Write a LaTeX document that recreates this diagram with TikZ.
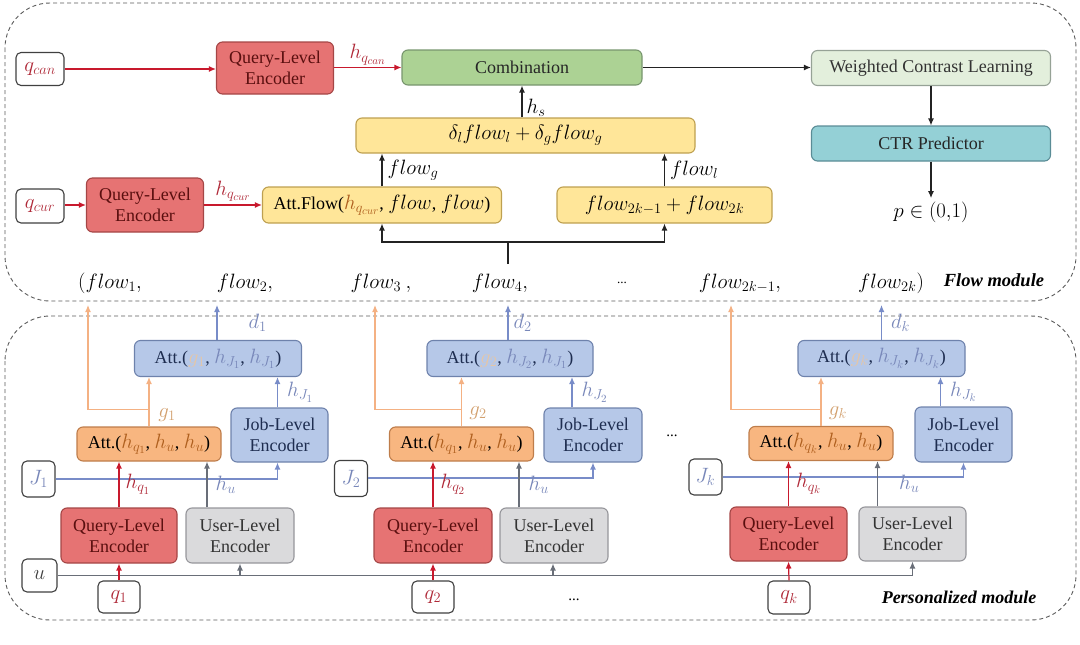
\documentclass[tikz,border=0pt]{standalone}
\usepackage{fontspec}
\setmainfont{Liberation Serif}
\DeclareMathSizes{18}{19.5}{14.5}{11}
\usetikzlibrary{arrows.meta}
\definecolor{qfill}{RGB}{230,115,115}
\definecolor{qdraw}{RGB}{165,70,70}
\definecolor{qtext}{RGB}{90,15,15}
\definecolor{ofill}{RGB}{248,182,128}
\definecolor{odraw}{RGB}{190,125,75}
\definecolor{bfill}{RGB}{182,200,232}
\definecolor{bdraw}{RGB}{110,130,172}
\definecolor{btext}{RGB}{30,45,80}
\definecolor{ufill}{RGB}{218,218,220}
\definecolor{udraw}{RGB}{150,150,155}
\definecolor{yfill}{RGB}{255,230,153}
\definecolor{ydraw}{RGB}{190,160,80}
\definecolor{cfill}{RGB}{172,210,148}
\definecolor{cdraw}{RGB}{120,150,110}
\definecolor{wfill}{RGB}{227,239,220}
\definecolor{wdraw}{RGB}{150,162,150}
\definecolor{tfill}{RGB}{148,208,214}
\definecolor{tdraw}{RGB}{90,140,150}
\definecolor{ared}{RGB}{200,25,45}
\definecolor{agray}{RGB}{105,110,120}
\definecolor{ablue}{RGB}{120,140,200}
\definecolor{aorange}{RGB}{244,177,131}
\definecolor{ablack}{RGB}{35,35,35}
\definecolor{lred}{RGB}{175,40,55}
\definecolor{lblue}{RGB}{120,135,185}
\definecolor{lorange}{RGB}{210,160,110}
\definecolor{horange}{RGB}{175,95,30}
\definecolor{modgray}{RGB}{90,90,90}
\begin{document}
\begin{tikzpicture}[x=1pt,y=-1pt,
  every node/.style={font=\fontsize{18}{21}\selectfont},
  box/.style={draw, rounded corners=6pt, line width=1.1pt, align=center, inner sep=0pt},
  qbox/.style={box, fill=qfill, draw=qdraw, text=qtext, minimum width=117pt, minimum height=54pt},
  obox/.style={box, fill=ofill, draw=odraw, minimum width=144pt, minimum height=34pt},
  bbox/.style={box, fill=bfill, draw=bdraw, text=btext},
  ubox/.style={box, fill=ufill, draw=udraw, text=black!80, minimum width=108pt, minimum height=55pt},
  ybox/.style={box, fill=yfill, draw=ydraw, minimum height=35pt},
  sbox/.style={box, fill=white, draw=black!75, rounded corners=5pt},
  arr/.style={-{Latex[length=7pt,width=6pt]}, line width=1.2pt},
  redarr/.style={arr, draw=ared, color=ared},
  grayarr/.style={arr, draw=agray, color=agray},
  bluearr/.style={arr, draw=ablue, color=ablue},
  orarr/.style={arr, draw=aorange, color=aorange},
  blkarr/.style={arr, draw=ablack, color=ablack},
  module/.style={draw=modgray, dash pattern=on 4pt off 3pt, line width=0.9pt, rounded corners=45pt},
  lab/.style={inner sep=1pt}
]
\useasboundingbox (0,0) rectangle (1080,645);
% modules
\draw[module] (5,3) rectangle (1076,301);
\draw[module] (5,316) rectangle (1076,620);

% ---------- Flow module ----------
\node[sbox, minimum width=48pt, minimum height=33pt, text=lred] (qcan) at (40,69) {$q_{can}$};
\node[qbox, minimum height=52pt] (qleA) at (275,68) {Query-Level\\Encoder};
\node[box, fill=cfill, draw=cdraw, text=black!85, minimum width=240pt, minimum height=35pt] (comb) at (522,67.5) {Combination};
\node[box, fill=wfill, draw=wdraw, text=black!80, minimum width=239pt, minimum height=35pt] (wcl) at (931,68) {Weighted Contrast Learning};
\node[box, fill=tfill, draw=tdraw, text=black!85, minimum width=239pt, minimum height=35pt] (ctr) at (931,143.5) {CTR Predictor};
\node (p) at (931,212) {$p \in (0{,}1)$};
\node[ybox, minimum width=339pt] (delta) at (525.5,135.5) {$\delta_l flow_l + \delta_g flow_g$};
\node[sbox, minimum width=48pt, minimum height=34pt, text=lred] (qcur) at (40,206) {$q_{cur}$};
\node[qbox] (qleB) at (145,205) {Query-Level\\Encoder};
\node[ybox, minimum width=239pt, minimum height=36pt] (attflow) at (382,205) {Att.Flow(\textcolor{horange}{$h_{q_{cur}}$}, $flow$, $flow$)};
\node[ybox, minimum width=215pt, minimum height=36pt] (fsum) at (664.5,205) {$flow_{2k-1} + flow_{2k}$};

\draw[redarr] (qcan.east) -- (qcan.east -| qleA.west);
\draw[redarr] (qleA.east |- comb.west) -- (comb.west) node[lab, midway, above=1pt, text=lred] {$h_{q_{can}}$};
\draw[blkarr] (comb.east) -- (comb.east -| wcl.west);
\draw[blkarr] (wcl.south) -- (ctr.north);
\draw[blkarr] (ctr.south) -- (p.north);
\draw[blkarr] (delta.north -| comb.south) -- (comb.south) node[lab, pos=0.3, right=3pt, text=black] {$h_s$};
\draw[redarr] (qcur.east |- qleB.west) -- (qleB.west);
\draw[redarr] (qleB.east) -- (attflow.west) node[lab, midway, above=2pt, text=lred] {$h_{q_{cur}}$};
\draw[blkarr] (attflow.north) -- (attflow.north |- delta.south) node[lab, midway, right=4pt, text=black] {$flow_g$};
\draw[blkarr] (fsum.north) -- (fsum.north |- delta.south) node[lab, midway, right=4pt, text=black] {$flow_l$};
\coordinate (tr) at (508,264);
\coordinate (trj) at (508,242);
\draw[ablack, line width=1.2pt] (tr) -- (trj);
\draw[blkarr] (trj) -| (attflow.south);
\draw[blkarr] (trj) -| (fsum.south);

% flow row
\node (fl1) at (110,283) {$(flow_1,$};
\node (fl2) at (245,283) {$flow_2,$};
\node (fl3) at (381,283) {$flow_3\ ,$};
\node (fl4) at (500,283) {$flow_4,$};
\node (fldots) at (622,283) {\fontsize{13}{15}\selectfont ...};
\node (fl5) at (740,283) {$flow_{2k-1},$};
\node (fl6) at (891,283) {$flow_{2k})$};
\node (flm) at (994,280) {\fontsize{18.5}{21}\selectfont\bfseries\itshape Flow module};

% ---------- Personalized module ----------
\node (pm) at (959,597) {\fontsize{18}{21}\selectfont\bfseries\itshape Personalized module};

\node[sbox, minimum width=35pt, minimum height=33pt, text=black!75] (u) at (39.5,575.5) {$u$};

% block 1
\node[bbox, minimum width=167pt, minimum height=36pt] (batt1) at (218,358.5) {Att.(\textcolor{lorange!60}{$g_1$}, \textcolor{lblue}{$h_{J_1}$}, \textcolor{lblue}{$h_{J_1}$})};
\node[obox] (oatt1) at (149,444) {Att.(\textcolor{horange}{$h_{q_1}$}, \textcolor{horange}{$h_u$}, \textcolor{horange}{$h_u$})};
\node[bbox, minimum width=97pt, minimum height=54pt] (jle1) at (279.5,435) {Job-Level\\Encoder};
\node[sbox, minimum width=33pt, minimum height=36pt, text=lblue] (J1) at (38.5,479) {$J_1$};
\node[qbox, minimum width=116pt, minimum height=55pt] (qle1) at (119,535.5) {Query-Level\\Encoder};
\node[ubox] (ule1) at (240,535.5) {User-Level\\Encoder};
\node[sbox, minimum width=42pt, minimum height=32pt, text=lred] (q1) at (119,597) {$q_1$};

% block 2
\node[bbox, minimum width=166pt, minimum height=36pt] (batt2) at (510,358.5) {Att.(\textcolor{lorange!60}{$g_2$}, \textcolor{lblue}{$h_{J_2}$}, \textcolor{lblue}{$h_{J_1}$})};
\node[obox] (oatt2) at (461.5,444) {Att.(\textcolor{horange}{$h_{q_1}$}, \textcolor{horange}{$h_u$}, \textcolor{horange}{$h_u$})};
\node[bbox, minimum width=98pt, minimum height=54pt] (jle2) at (593,435) {Job-Level\\Encoder};
\node[sbox, minimum width=33pt, minimum height=36pt, text=lblue] (J2) at (351,478.5) {$J_2$};
\node[qbox, minimum width=118pt, minimum height=55pt] (qle2) at (433,535.5) {Query-Level\\Encoder};
\node[ubox] (ule2) at (554,535.5) {User-Level\\Encoder};
\node[sbox, minimum width=42pt, minimum height=32pt, text=lred] (q2) at (433,597) {$q_2$};
\node (dotsA) at (672,436) {\fontsize{15}{17}\selectfont ...};
\node (dotsB) at (574,600) {\fontsize{15}{17}\selectfont ...};

% block k
\node[bbox, minimum width=167pt, minimum height=36pt] (battk) at (881.5,358.5) {Att.(\textcolor{lorange!60}{$g_k$}, \textcolor{lblue}{$h_{J_k}$}, \textcolor{lblue}{$h_{J_k}$})};
\node[obox] (oattk) at (821,443.5) {Att.(\textcolor{horange}{$h_{q_k}$}, \textcolor{horange}{$h_u$}, \textcolor{horange}{$h_u$})};
\node[bbox, minimum width=97pt, minimum height=55pt] (jlek) at (963.5,434.5) {Job-Level\\Encoder};
\node[sbox, minimum width=33pt, minimum height=36pt, text=lblue] (Jk) at (705.5,477) {$J_k$};
\node[qbox, minimum width=117pt, minimum height=54pt] (qlek) at (788.5,534) {Query-Level\\Encoder};
\node[ubox, minimum width=107pt, minimum height=54pt] (ulek) at (912.5,534) {User-Level\\Encoder};
\node[sbox, minimum width=42pt, minimum height=33pt, text=lred] (qk) at (789,597.5) {$q_k$};

% tips in the gap between modules
\coordinate (t1) at (88,305);
\coordinate (t2) at (375,305);
\coordinate (t3) at (731,305);

% u line
\draw[grayarr] (u.east) -| (ulek.south);
\draw[grayarr] (ule1.south |- u.east) -- (ule1.south);
\draw[grayarr] ([xshift=-1pt]ule2.south |- u.east) -- ([xshift=-1pt]ule2.south);

% q arrows
\draw[redarr] (q1.north) -- (qle1.south);
\draw[redarr] (q2.north) -- (qle2.south);
\draw[redarr] (qk.north) -- (qlek.south);

% J lines
\draw[bluearr] (J1.east) -| ([xshift=-2pt]jle1.south);
\draw[bluearr] (J2.east |- 0,478) -| (jle2.south);
\draw[bluearr] (Jk.east) -| (jlek.south);

% encoders to orange att
\draw[redarr] (qle1.north) -- (qle1.north |- oatt1.south) node[lab, midway, right=5pt, text=lred] {$h_{q_1}$};
\draw[grayarr] ([xshift=-33pt]ule1.north) -- ([xshift=-33pt]ule1.north |- oatt1.south) node[lab, midway, right=7pt, text=lblue] {$h_u$};
\draw[redarr] (qle2.north) -- (qle2.north |- oatt2.south) node[lab, midway, right=6pt, text=lred] {$h_{q_2}$};
\draw[grayarr] ([xshift=-35pt]ule2.north) -- ([xshift=-35pt]ule2.north |- oatt2.south) node[lab, midway, right=8pt, text=lblue] {$h_u$};
\draw[redarr] (qlek.north) -- (qlek.north |- oattk.south) node[lab, midway, right=6pt, text=lred] {$h_{q_k}$};
\draw[grayarr] ([xshift=-35pt]ulek.north) -- ([xshift=-35pt]ulek.north |- oattk.south) node[lab, midway, right=20pt, text=lblue] {$h_u$};

% job encoders to blue att
\draw[bluearr] ([xshift=-2pt]jle1.north) -- ([xshift=-2pt]jle1.north |- batt1.south) node[lab, midway, right=8pt, text=lblue] {$h_{J_1}$};
\draw[bluearr] ([xshift=-21pt]jle2.north) -- ([xshift=-21pt]jle2.north |- batt2.south) node[lab, midway, right=8pt, text=lblue] {$h_{J_2}$};
\draw[bluearr] ([xshift=-23pt]jlek.north) -- ([xshift=-23pt]jlek.north |- battk.south) node[lab, midway, right=8pt, text=lblue] {$h_{J_k}$};

% orange att to blue att and flows
\draw[orarr] (oatt1.north) -- (oatt1.north |- batt1.south);
\draw[orarr] ([yshift=17pt]oatt1.north) -| (t1);
\node[lab, text=lorange] (g1) at (167,415) {$g_1$};
\draw[orarr] (oatt2.north) -- (oatt2.north |- batt2.south);
\draw[orarr] ([yshift=17pt]oatt2.north) -| (t2);
\node[lab, text=lorange] (g2) at (478,413) {$g_2$};
\draw[orarr] (oattk.north) -- (oattk.north |- battk.south);
\draw[orarr] ([yshift=16.5pt]oattk.north) -| (t3);
\node[lab, text=lorange] (gk) at (838,413) {$g_k$};

% blue att to flows
\draw[bluearr] ([xshift=-1pt]batt1.north) -- ([xshift=-1pt]batt1.north |- t1) node[lab, midway, right=30pt, text=lblue] {$d_1$};
\draw[bluearr] ([xshift=-2pt]batt2.north) -- ([xshift=-2pt]batt2.north |- t1) node[lab, midway, right=4pt, text=lblue] {$d_2$};
\draw[bluearr] (battk.north) -- (battk.north |- t1) node[lab, midway, right=8pt, text=lblue] {$d_k$};
\end{tikzpicture}
\end{document}
